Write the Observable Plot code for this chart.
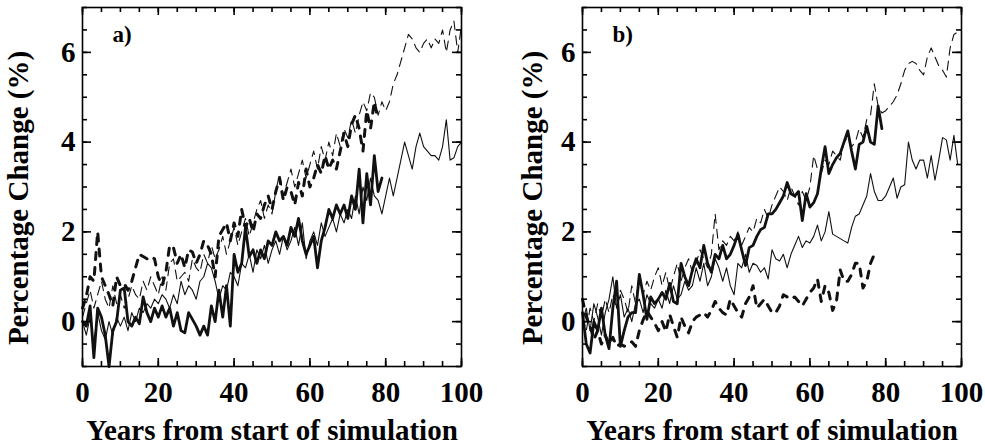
<!DOCTYPE html>
<html>
<head>
<meta charset="utf-8">
<script src="https://cdn.jsdelivr.net/npm/d3@7"></script>
<script src="https://cdn.jsdelivr.net/npm/@observablehq/plot@0.6"></script>
<style>
  body { margin: 0; background: #fff; }
  #wrap { display: flex; width: 985px; height: 445px; overflow: hidden; }
</style>
</head>
<body>
<div id="wrap"></div>
<script>
// ---------- axes / tick labels / texts ----------
const xDomain = [0, 100];
const yDomain = [-1, 7];
const xMajorTicks = [0, 20, 40, 60, 80, 100];
const xMinorTicks = [0, 5, 10, 15, 20, 25, 30, 35, 40, 45, 50, 55, 60, 65, 70, 75, 80, 85, 90, 95, 100];
const yMajorTicks = [0, 2, 4, 6];
const yMinorTicks = [-1, -0.5, 0, 0.5, 1, 1.5, 2, 2.5, 3, 3.5, 4, 4.5, 5, 5.5, 6, 6.5, 7];
const xLabel = "Years from start of simulation";
const yLabel = "Percentage Change (%)";
const panelTags = ["a)", "b)"];

// ---------- panel a) (value per year, index = years from start) ----------
const aThinSolid = [0.0, -0.3, 0.1, -0.5, 0.2, -0.2, -0.4, 0.0, -0.3, 0.1, -0.1,
  0.1, -0.2, 0.2, 0.0, 0.3, 0.2, 0.4, 0.3, 0.5, 0.4,
  0.6, 0.5, 0.3, 0.6, 0.4, 0.9, 0.6, 0.8, 0.7, 0.5,
  0.9, 1.0, 1.3, 1.2, 0.9, 0.5, 0.8, 0.7, 1.1, 1.0,
  0.8, 1.3, 1.2, 1.5, 1.1, 1.6, 1.4, 1.7, 1.3, 1.6,
  1.8, 1.5, 1.9, 1.6, 1.8, 2.1, 1.7, 2.2, 1.4, 1.8,
  2.0, 1.7, 2.2, 1.9, 2.1, 2.3, 2.0, 2.4, 2.2, 2.5,
  2.3, 2.8, 2.4, 3.0, 2.7, 3.2, 2.8, 2.7, 2.4, 2.8,
  3.2, 2.8, 3.2, 3.6, 4.0, 3.7, 3.4, 3.9, 4.2, 3.9,
  3.8, 3.7, 3.7, 3.6, 3.9, 4.5, 3.6, 3.65, 3.9, 4.0];
const aThinDashed = [0.1, 0.4, 0.7, 0.3, 0.6, 0.9, 0.5, 0.3, 0.8, 0.4, 0.6,
  0.3, 0.5, 0.8, 0.6, 0.5, 0.9, 0.7, 1.0, 0.8, 0.6,
  1.0, 0.7, 1.3, 1.4, 0.9, 1.0, 1.1, 0.9, 1.4, 1.2,
  1.1, 1.5, 1.3, 1.7, 1.4, 1.6, 1.9, 1.5, 1.8, 2.1,
  1.7, 2.0, 2.3, 1.9, 2.2, 2.5, 2.7, 2.3, 2.6, 2.4,
  2.9, 3.3, 2.8, 3.1, 3.4, 3.0, 3.3, 3.6, 3.2, 3.5,
  3.8, 3.4, 3.9, 3.6, 4.0, 3.7, 4.2, 3.9, 4.3, 4.1,
  4.5, 4.2, 4.6, 4.9, 4.7, 5.1, 5.0, 4.6, 4.9, 4.7,
  4.9, 5.3, 5.5, 5.8, 6.1, 6.4, 6.3, 6.1, 6.0, 6.2,
  6.3, 6.1, 6.3, 6.2, 6.5, 6.0, 6.5, 6.7, 6.0, 6.6];
const aThickSolid = [0.0, -0.1, 0.35, -0.8, 0.3, 0.1, -0.3, -1.0, -0.2, 0.0,
  0.7, 0.75, 0.0, -0.1, 0.1, -0.05, 0.55, 0.2, 0.0, 0.3,
  0.1, 0.35, 0.1, 0.3, -0.1, 0.2, -0.2, -0.25, 0.2, 0.05,
  -0.1, -0.3, -0.1, -0.3, 0.35, 0.0, 0.7, 0.1, 0.8, -0.1,
  1.5, 1.1, 1.3, 2.1, 1.45, 1.6, 1.3, 1.6, 1.4, 1.8,
  1.7, 2.0, 1.8, 1.9, 1.7, 2.1, 1.9, 2.3, 1.8, 1.5,
  1.7, 1.9, 1.2, 1.8, 2.1, 2.5, 2.3, 2.6, 2.4, 2.6,
  2.3, 2.8, 2.5, 3.4, 2.2, 3.3, 2.6, 3.7, 2.9, 3.2];
const aThickDashed = [0.3, 0.56, 1.0, 0.9, 2.0, 1.0, 0.8, 0.6, 0.35, 1.0,
  0.8, 0.85, 0.7, 0.9, 1.2, 1.5, 1.45, 1.4, 1.45, 1.4,
  1.0, 0.8, 1.1, 1.7, 1.65, 1.3, 1.5, 1.2, 1.6, 1.55,
  1.3, 1.5, 1.8, 1.7, 1.5, 1.0, 1.9, 2.05, 2.2, 1.8,
  2.2, 1.9, 2.5, 2.1, 2.3, 2.0, 2.4, 2.3, 2.6, 2.8,
  2.5, 2.9, 3.2, 2.7, 3.0, 2.9, 2.6, 3.1, 2.8, 3.4,
  3.0, 3.2, 3.5, 3.3, 3.7, 3.4, 3.6, 3.4, 3.8, 4.2,
  3.9, 4.4, 4.6, 4.3, 3.8, 4.7, 4.3, 4.9, 4.5];

// ---------- panel b) ----------
const bThinSolid = [0.0, 0.3, -0.2, 0.4, 0.1, -0.3, 0.2, 0.5, 1.0, 0.3, 0.6,
  0.1, 0.3, 0.0, 0.4, 0.5, 0.2, 0.6, 0.4, 0.3, 0.5,
  0.3, 0.7, 0.4, 0.8, 0.5, 0.6, 0.9, 0.7, 0.8, 1.2,
  0.9, 1.3, 0.8, 1.0, 1.4, 1.2, 0.9, 1.2, 0.8, 0.6,
  1.3, 1.2, 1.5, 1.1, 1.3, 1.25, 1.1, 1.2, 0.95, 1.6,
  1.4, 1.35, 1.5, 1.2, 1.5, 1.7, 1.9, 1.65, 1.8, 1.75,
  1.9, 2.15, 1.8, 2.0, 2.45, 1.95, 1.9, 1.85, 1.8, 1.75,
  2.1, 2.35, 2.4, 2.6, 2.8, 3.3, 2.9, 2.7, 2.7, 2.8,
  3.0, 3.2, 2.75, 3.0, 3.05, 4.0, 3.6, 3.4, 3.6, 3.6,
  3.2, 3.7, 3.15, 3.6, 4.1, 4.05, 3.6, 4.15, 3.5, 3.5];
const bThinDashed = [0.1, -0.2, 0.3, 0.0, 0.4, 0.1, 0.5, 0.2, 0.6, 0.3, 0.7,
  0.5, 0.2, 0.8, 0.4, 1.1, 0.6, 0.9, 0.7, 1.0, 1.2,
  0.8, 1.1, 0.7, 1.0, 1.3, 0.9, 1.2, 1.4, 1.1, 1.3,
  1.6, 1.4, 1.2, 1.5, 2.4, 1.6, 1.8, 1.7, 1.9, 1.8,
  2.0, 1.7, 1.9, 2.1, 2.0, 2.3, 2.2, 2.5, 2.3, 2.6,
  2.8, 3.0, 2.9, 2.7, 3.0, 2.8, 2.6, 2.9, 2.7, 3.0,
  3.7, 3.4, 3.3, 3.6, 3.5, 3.8, 3.7, 3.6, 4.0, 4.1,
  3.9, 4.0, 4.3, 4.1, 4.5, 4.6, 5.3, 4.8, 4.65, 4.7,
  4.8, 4.9, 5.05, 5.3, 5.6, 5.75, 5.8, 5.75, 5.6, 5.5,
  5.9, 6.1, 5.9, 5.7, 5.6, 5.45, 6.1, 6.4, 6.45, 6.5];
const bThickSolid = [0.2, -0.5, -0.7, 0.0, -0.2, 0.3, -0.3, -0.6, 0.3, 0.9,
  -0.55, -0.2, 0.1, 0.2, 0.2, 1.05, 0.6, 0.05, 0.55, 0.4,
  0.5, 0.65, 0.5, 0.85, 0.45, 0.4, 1.3, 1.0, 0.8, 1.15,
  1.4, 1.2, 1.7, 1.3, 1.1, 1.5, 1.4, 1.7, 1.4, 1.5,
  1.7, 1.95, 1.6, 1.25, 1.65, 1.7, 1.9, 2.05, 2.1, 2.4,
  2.4, 2.5, 2.65, 2.8, 3.1, 2.85, 2.8, 2.9, 2.25, 2.85,
  2.55, 2.65, 2.85, 3.4, 3.9, 3.3, 3.5, 3.65, 3.75, 4.0,
  4.25, 3.8, 3.4, 3.95, 4.0, 4.35, 4.0, 3.95, 4.8, 4.3];
const bThickDashed = [0.5, 0.1, -0.1, -0.4, -0.2, -0.5, -0.3, -0.5, -0.35, -0.55,
  -0.5, -0.55, -0.5, -0.45, -0.55, -0.2, 0.04, 0.23, 0.1, -0.03,
  -0.2, 0.0, -0.22, 0.16, -0.1, -0.35, 0.1, -0.1, -0.25, 0.0,
  0.1, 0.15, 0.2, 0.1, 0.25, 0.45, 0.3, 0.2, 0.15, 0.5,
  0.35, 0.2, 0.1, 0.4, 0.55, 0.8, 0.3, 0.4, 0.5, 0.35,
  0.2, 0.2, 0.35, 0.6, 0.55, 0.5, 0.55, 0.45, 0.35, 0.5,
  0.65, 0.75, 0.95, 0.45, 0.8, 0.65, 0.25, 0.45, 1.15, 0.9,
  0.9, 1.05, 1.3, 1.3, 0.75, 0.9, 1.3, 1.5];

const toRows = (values) => values.map((v, i) => ({year: i, value: v}));

const PLOT_H = 445, M_TOP = 7, M_BOTTOM = 79;

function panel(p) {
  const ink = "#000";
  const innerH = PLOT_H - M_TOP - M_BOTTOM;
  const innerW = p.width - p.marginLeft - p.marginRight;
  // pixel length of a tick expressed in each scale's units
  const yPerPx = (yDomain[1] - yDomain[0]) / innerH;
  const xPerPx = (xDomain[1] - xDomain[0]) / innerW;
  const tx = (ticks, len, edge) => Plot.ruleX(ticks, {
    x: d => d, stroke: ink, strokeWidth: 1.6,
    y1: edge === "bottom" ? yDomain[0] : yDomain[1] - len * yPerPx,
    y2: edge === "bottom" ? yDomain[0] + len * yPerPx : yDomain[1]
  });
  const ty = (ticks, len, edge) => Plot.ruleY(ticks, {
    y: d => d, stroke: ink, strokeWidth: 1.6,
    x1: edge === "left" ? xDomain[0] : xDomain[1] - len * xPerPx,
    x2: edge === "left" ? xDomain[0] + len * xPerPx : xDomain[1]
  });
  return Plot.plot({
    width: p.width,
    height: PLOT_H,
    marginLeft: p.marginLeft,
    marginRight: p.marginRight,
    marginTop: M_TOP,
    marginBottom: M_BOTTOM,
    x: {domain: xDomain},
    y: {domain: yDomain},
    style: {
      fontFamily: '"Liberation Serif", "Times New Roman", serif',
      fontWeight: "bold",
      fontSize: "29px",
      color: "#000",
      background: "#fff",
      overflow: "visible"
    },
    marks: [
      Plot.line(toRows(p.thinSolid), {x: "year", y: "value", stroke: "#111", strokeWidth: 1.1}),
      Plot.line(toRows(p.thinDashed), {x: "year", y: "value", stroke: "#111", strokeWidth: 1.1, strokeDasharray: "9,6"}),
      Plot.line(toRows(p.thickSolid), {x: "year", y: "value", stroke: "#111", strokeWidth: 2.8}),
      Plot.line(toRows(p.thickDashed), {x: "year", y: "value", stroke: "#111", strokeWidth: 3, strokeDasharray: "7,8"}),
      // inward ticks on all four sides
      tx(xMinorTicks, 5, "bottom"), tx(xMajorTicks, 8, "bottom"),
      tx(xMinorTicks, 5, "top"), tx(xMajorTicks, 8, "top"),
      ty(yMinorTicks, 5, "left"), ty(yMajorTicks, 9, "left"),
      ty(yMinorTicks, 5, "right"), ty(yMajorTicks, 9, "right"),
      Plot.frame({stroke: ink, strokeWidth: 1.6}),
      // tick labels
      Plot.axisX(xMajorTicks, {anchor: "bottom", tickSize: 0, tickPadding: 15, label: null, fill: "#000"}),
      Plot.axisY(yMajorTicks, {anchor: "left", tickSize: 0, tickPadding: 7, label: null, fill: "#000"}),
      // axis titles and panel tag
      Plot.text([xLabel], {text: d => d, frameAnchor: "bottom", dy: 64, lineAnchor: "middle", fill: "#000"}),
      Plot.text([yLabel], {text: d => d, frameAnchor: "left", rotate: -90, dx: p.yLabelDx, dy: 11, lineAnchor: "middle", textAnchor: "middle", fill: "#000"}),
      Plot.text([p.tag], {text: d => d, frameAnchor: "top-left", dx: 30, dy: 27, textAnchor: "start", lineAnchor: "middle", fontSize: 23, fill: "#000"})
    ]
  });
}

const wrap = document.getElementById("wrap");
wrap.appendChild(panel({
  tag: panelTags[0], thinSolid: aThinSolid, thinDashed: aThinDashed, thickSolid: aThickSolid, thickDashed: aThickDashed,
  width: 492, marginLeft: 82, marginRight: 31, yLabelDx: -64
}));
wrap.appendChild(panel({
  tag: panelTags[1], thinSolid: bThinSolid, thinDashed: bThinDashed, thickSolid: bThickSolid, thickDashed: bThickDashed,
  width: 493, marginLeft: 90, marginRight: 24, yLabelDx: -50
}));
</script>
</body>
</html>
